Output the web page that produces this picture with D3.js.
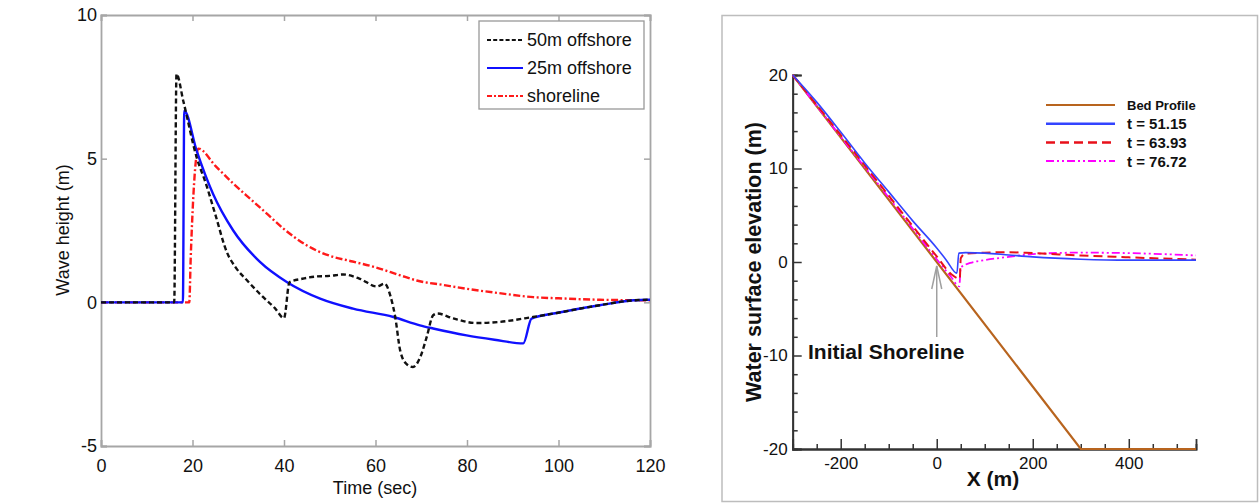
<!DOCTYPE html>
<html><head><meta charset="utf-8">
<script src="https://cdn.jsdelivr.net/npm/d3@7"></script>
<style>
html,body{margin:0;padding:0;background:#fff;}
svg{display:block;font-family:"Liberation Sans",Arial,Helvetica,sans-serif;}
</style></head>
<body>
<svg id="c" width="1260" height="503"></svg>
<script>
// ---------- Left chart data ----------
const leftXTicks = [0, 20, 40, 60, 80, 100, 120];
const leftYTicks = [-5, 0, 5, 10];
const leftSeriesNames = ["50m offshore", "25m offshore", "shoreline"];

const off50T = [0, 16.0, 16.5, 18, 20.9, 23, 25, 27.5, 29.5, 32, 35, 38, 40, 41.2, 44, 47.1, 50, 53, 56.6, 60.3, 62, 63.3, 64.3, 65.4, 66.8, 68.2, 69.8, 71.2, 72.6, 73.5, 77, 82, 87.2, 94.4, 99.6, 109, 116.4, 120];
const off50V = [0, 0, 7.95, 7.0, 5.05, 4.1, 3.05, 1.75, 1.2, 0.75, 0.25, -0.2, -0.55, 0.7, 0.82, 0.9, 0.92, 0.97, 0.82, 0.55, 0.65, 0.2, -0.5, -1.68, -2.15, -2.25, -1.9, -1.2, -0.45, -0.39, -0.56, -0.72, -0.68, -0.51, -0.37, -0.1, 0.07, 0.09];

const off25T = [0, 17.9, 18.2, 20.9, 24.5, 28.9, 34.8, 40.6, 47.9, 55.1, 63.9, 69.7, 72.6, 79.9, 86, 92.3, 94.1, 99.6, 109, 116.4, 120];
const off25V = [0, 0, 6.67, 5.28, 3.77, 2.5, 1.4, 0.71, 0.13, -0.22, -0.51, -0.8, -0.91, -1.15, -1.3, -1.43, -0.57, -0.37, -0.1, 0.07, 0.09];

const shoreT = [0, 19.3, 19.6, 21.3, 25, 29, 33, 36.5, 40, 45, 50, 55, 60, 65.4, 69, 75, 80, 87, 94.5, 100, 109, 120];
const shoreV = [0, 0, 1.5, 5.35, 4.75, 4.12, 3.55, 3.05, 2.55, 1.98, 1.62, 1.42, 1.22, 0.94, 0.76, 0.6, 0.47, 0.32, 0.18, 0.14, 0.09, 0.07];

// ---------- Right chart data ----------
const rightXTicks = [-200, 0, 200, 400];
const rightYTicks = [-20, -10, 0, 10, 20];
const rightSeriesNames = ["Bed Profile", "t = 51.15", "t = 63.93", "t = 76.72"];

const bedX = [-300, 300, 540];
const bedY = [20, -20, -20];

const t51X = [-300, -250, -200, -150, -100, -50, 0, 20, 42, 46, 60, 100, 150, 200, 300, 400, 540];
const t51Y = [20, 17.1, 13.9, 10.6, 7.5, 4.4, 1.5, 0.2, -1.2, 0.95, 1.0, 0.95, 0.75, 0.55, 0.3, 0.2, 0.2];

const t63X = [-300, -200, -100, 0, 30, 48, 50, 60, 100, 150, 200, 300, 400, 540];
const t63Y = [20, 13.6, 7.1, 0.6, -1.3, -1.8, 0.4, 0.9, 1.0, 1.05, 0.95, 0.7, 0.5, 0.25];

const t76X = [-300, -200, -100, 0, 30, 47, 50, 70, 100, 150, 200, 300, 400, 540];
const t76Y = [20, 13.4, 6.9, 0.3, -1.6, -2.6, -0.6, -0.1, 0.2, 0.55, 0.85, 1.0, 0.95, 0.7];

const zip = (xs, ys) => xs.map((x, i) => [x, ys[i]]);
const fmt = d => String(d);
const svg = d3.select("#c");

// ================= LEFT CHART =================
(function(){
  const L = {l:101, r:650, t:15, b:446};
  const x = d3.scaleLinear().domain([0,120]).range([L.l, L.r]);
  const y = d3.scaleLinear().domain([-5,10]).range([L.b, L.t]);
  const g = svg.append("g");
  const frameCol = "#a6a6a6";

  const ax = g.append("g").attr("transform",`translate(0,${L.b})`)
    .call(d3.axisBottom(x).tickValues(leftXTicks).tickSize(-6).tickPadding(13).tickFormat(fmt));
  const ay = g.append("g").attr("transform",`translate(${L.l},0)`)
    .call(d3.axisLeft(y).tickValues(leftYTicks).tickSize(-6).tickPadding(4).tickFormat(fmt));
  const axT = g.append("g").attr("transform",`translate(0,${L.t})`)
    .call(d3.axisTop(x).tickValues(leftXTicks).tickSize(-6).tickFormat(""));
  const ayR = g.append("g").attr("transform",`translate(${L.r},0)`)
    .call(d3.axisRight(y).tickValues(leftYTicks).tickSize(-6).tickFormat(""));
  [ax, ay, axT, ayR].forEach(a => {
    a.select(".domain").attr("stroke", frameCol).attr("stroke-width", 1.8);
    a.selectAll(".tick line").attr("stroke", frameCol).attr("stroke-width", 1.5);
    a.selectAll("text").attr("fill", "#111").attr("font-size", 18).attr("font-family", "Liberation Sans, Arial, sans-serif");
  });
  ax.selectAll("text").attr("dy", "0.71em");

  const line = d3.line().x(d => x(d[0])).y(d => y(d[1])).curve(d3.curveMonotoneX);

  g.append("path").datum(zip(shoreT, shoreV)).attr("d", line)
    .attr("fill","none").attr("stroke","#ff1a1a").attr("stroke-width",2.4)
    .attr("stroke-dasharray","7,2.5,2,2.5");
  g.append("path").datum(zip(off25T, off25V)).attr("d", line)
    .attr("fill","none").attr("stroke","#1010ff").attr("stroke-width",2.4);
  g.append("path").datum(zip(off50T, off50V)).attr("d", line)
    .attr("fill","none").attr("stroke","#111").attr("stroke-width",2.4)
    .attr("stroke-dasharray","5,3");

  g.append("text").attr("x", 375).attr("y", 494).attr("text-anchor","middle")
    .attr("font-size",18).attr("fill","#111").text("Time (sec)");
  g.append("text").attr("transform","translate(69,230) rotate(-90)").attr("text-anchor","middle")
    .attr("font-size",18).attr("fill","#111").text("Wave height (m)");

  const lg = g.append("g");
  lg.append("rect").attr("x",479).attr("y",21).attr("width",165).attr("height",88)
    .attr("fill","#fff").attr("stroke","#999").attr("stroke-width",1.3);
  const styles = [
    {c:"#111", d:"4,2.2"},
    {c:"#1010ff", d:null},
    {c:"#ff1a1a", d:"5,2,2,2"}
  ];
  leftSeriesNames.forEach((n,i) => {
    const yy = 40 + i*28;
    const ln = lg.append("line").attr("x1",487).attr("x2",523).attr("y1",yy).attr("y2",yy)
      .attr("stroke",styles[i].c).attr("stroke-width",2);
    if (styles[i].d) ln.attr("stroke-dasharray", styles[i].d);
    lg.append("text").attr("x",527).attr("y",yy).attr("dy","0.36em")
      .attr("font-size",18).attr("fill","#111").text(n);
  });
})();

// ================= RIGHT CHART =================
(function(){
  svg.append("rect").attr("x",722).attr("y",15.5).attr("width",535.5).attr("height",486)
    .attr("fill","none").attr("stroke","#bdbdbd").attr("stroke-width",1.5);

  const R = {l:792.7, r:1196, t:75, b:449};
  const x = d3.scaleLinear().domain([-300,540]).range([R.l, R.r]);
  const y = d3.scaleLinear().domain([-20,20]).range([R.b, R.t]);
  const g = svg.append("g");
  const axCol = "#333";

  const xMinor = d3.range(-250, 541, 50).filter(v => rightXTicks.indexOf(v) < 0);
  const yMinor = d3.range(-18, 20, 2).filter(v => rightYTicks.indexOf(v) < 0);

  const ax = g.append("g").attr("transform",`translate(0,${R.b})`)
    .call(d3.axisBottom(x).tickValues(rightXTicks).tickSize(-10).tickPadding(8).tickFormat(fmt));
  const axm = g.append("g").attr("transform",`translate(0,${R.b})`)
    .call(d3.axisBottom(x).tickValues(xMinor).tickSize(-5).tickFormat(""));
  const ay = g.append("g").attr("transform",`translate(${R.l},0)`)
    .call(d3.axisLeft(y).tickValues(rightYTicks).tickSize(-9).tickPadding(5).tickFormat(fmt));
  const aym = g.append("g").attr("transform",`translate(${R.l},0)`)
    .call(d3.axisLeft(y).tickValues(yMinor).tickSize(-5).tickFormat(""));
  [ax, axm, ay, aym].forEach(a => {
    a.select(".domain").attr("stroke", axCol).attr("stroke-width", 1.8);
    a.selectAll(".tick line").attr("stroke", axCol).attr("stroke-width", 1.5);
    a.selectAll("text").attr("fill","#111").attr("font-size",17).attr("font-family","Liberation Sans, Arial, sans-serif");
  });
  ax.selectAll("text").attr("dy","0.71em");

  const line = d3.line().x(d => x(d[0])).y(d => y(d[1]));
  const lineS = d3.line().x(d => x(d[0])).y(d => y(d[1])).curve(d3.curveMonotoneX);

  g.append("path").datum(zip(bedX, bedY)).attr("d", line)
    .attr("fill","none").attr("stroke","#b8641e").attr("stroke-width",2.2);
  g.append("path").datum(zip(t76X, t76Y)).attr("d", lineS)
    .attr("fill","none").attr("stroke","#ff00ff").attr("stroke-width",1.8)
    .attr("stroke-dasharray","8,3,2,3,2,3");
  g.append("path").datum(zip(t63X, t63Y)).attr("d", lineS)
    .attr("fill","none").attr("stroke","#e8101a").attr("stroke-width",2)
    .attr("stroke-dasharray","9,5");
  g.append("path").datum(zip(t51X, t51Y)).attr("d", lineS)
    .attr("fill","none").attr("stroke","#3344ff").attr("stroke-width",1.6);

  const ax0 = x(0);
  g.append("line").attr("x1",ax0).attr("x2",ax0).attr("y1",337).attr("y2",266)
    .attr("stroke","#a0a0a0").attr("stroke-width",1.5);
  g.append("path").attr("d",`M${ax0-5},${289} L${ax0},${266} L${ax0+5},${289}`)
    .attr("fill","none").attr("stroke","#a0a0a0").attr("stroke-width",1.5);
  g.append("text").attr("x",808).attr("y",359).attr("font-weight","bold")
    .attr("font-size",21).attr("fill","#111").text("Initial Shoreline");

  g.append("text").attr("x",993).attr("y",486).attr("text-anchor","middle").attr("font-weight","bold")
    .attr("font-size",21).attr("fill","#111").text("X (m)");
  g.append("text").attr("transform","translate(761,262) rotate(-90)").attr("text-anchor","middle")
    .attr("font-weight","bold").attr("font-size",21.5).attr("fill","#111").text("Water surface elevation (m)");

  const lg = g.append("g");
  const st = [
    {c:"#b8641e", w:2, d:null},
    {c:"#3344ff", w:2.5, d:null},
    {c:"#e8101a", w:2.5, d:"9,5"},
    {c:"#ff00ff", w:2, d:"8,3,2,3,2,3"}
  ];
  rightSeriesNames.forEach((n,i) => {
    const yy = 105 + i*18.7;
    const l = lg.append("line").attr("x1",1046).attr("x2",1115).attr("y1",yy).attr("y2",yy)
      .attr("stroke",st[i].c).attr("stroke-width",st[i].w);
    if (st[i].d) l.attr("stroke-dasharray",st[i].d);
    lg.append("text").attr("x",1127).attr("y",yy).attr("dy","0.36em").attr("font-weight","bold")
      .attr("font-size", i===0 ? 13 : 15).attr("fill","#111").text(n);
  });
})();
</script>
</body></html>
